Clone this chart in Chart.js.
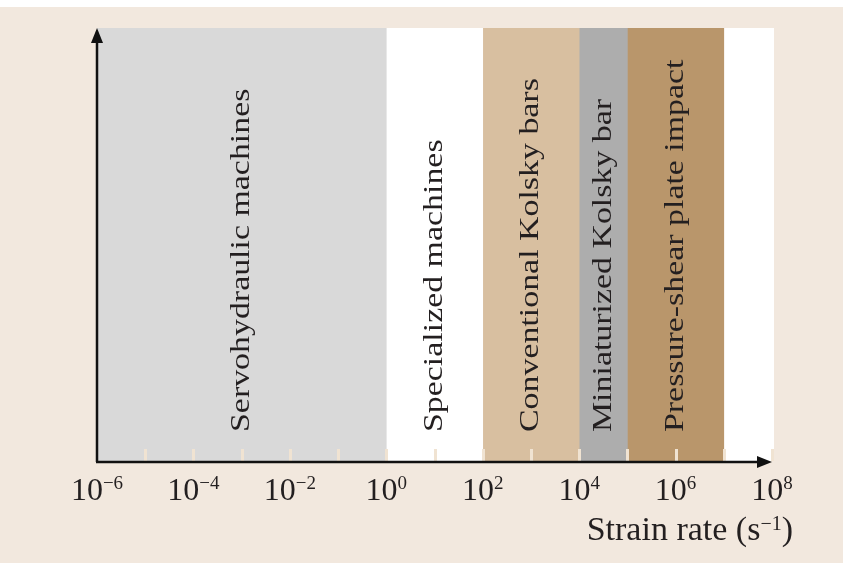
<!DOCTYPE html>
<html lang="en">
<head>
  <meta charset="UTF-8" />
  <title>Strain rate ranges of testing techniques</title>
  <script src="https://cdn.jsdelivr.net/npm/chart.js"></script>
  <style>
    * { margin: 0; padding: 0; box-sizing: border-box; }
    body { background: #fff; width: 843px; height: 563px; overflow: hidden; }
    canvas { display: block; }
  </style>
</head>
<body>
  <canvas id="rateChart" width="843" height="563"></canvas>
  <script>
    // Data: technique bands on a log strain-rate axis
    const techniques = ['Servohydraulic machines', 'Specialized machines', 'Conventional Kolsky bars', 'Miniaturized Kolsky bar', 'Pressure-shear plate impact'];
    const rateFrom = [1e-6, 1e0, 1e2, 1e4, 1e5];
    const rateTo = [1e0, 1e2, 1e4, 1e5, 1e7];
    const bandColors = ['#d9d9d9', '#ffffff', '#d8bfa0', '#adadad', '#b9966b'];
    const tickValues = [1e-6, 1e-4, 1e-2, 1e0, 1e2, 1e4, 1e6, 1e8];
    const tickExponents = ['\u22126', '\u22124', '\u22122', '0', '2', '4', '6', '8'];
    const axisTitle = 'Strain rate (s';
    const axisTitleExp = '\u22121';

    const BEIGE = '#f2e8de';
    const INK = '#231f20';
    const SERIF = '"Liberation Serif", "DejaVu Serif", serif';

    // one dataset per band, all sharing the single row
    const datasets = techniques.map((name, i) => ({
      label: name,
      data: [[rateFrom[i], rateTo[i]]],
      backgroundColor: bandColors[i],
      borderWidth: 0,
      grouped: false,
      barPercentage: 1,
      categoryPercentage: 1
    }));

    const decorations = {
      id: 'decorations',
      beforeDraw(chart) {
        const { ctx, chartArea: a } = chart;
        ctx.save();
        ctx.fillStyle = '#ffffff';
        ctx.fillRect(0, 0, chart.width, chart.height);
        ctx.fillStyle = BEIGE;
        ctx.fillRect(0, 7, chart.width, chart.height - 7);
        ctx.fillStyle = '#ffffff';
        ctx.fillRect(a.left, a.top, a.right - a.left + 2, a.bottom - a.top);
        ctx.restore();
      },
      afterDatasetsDraw(chart) {
        const { ctx, chartArea: a } = chart;
        const xs = chart.scales.x;
        ctx.save();

        // decade tick marks inside the plot
        ctx.strokeStyle = '#f0e3d2';
        ctx.lineWidth = 3;
        for (let e = Math.log10(xs.min) + 1; e <= Math.log10(xs.max); e++) {
          const px = Math.round(xs.getPixelForValue(Math.pow(10, e))) + 0.5;
          ctx.beginPath();
          ctx.moveTo(px, a.bottom - 12);
          ctx.lineTo(px, a.bottom);
          ctx.stroke();
        }

        // band labels, rotated
        ctx.fillStyle = INK;
        ctx.font = '28px ' + SERIF;
        ctx.textAlign = 'left';
        ctx.textBaseline = 'middle';
        techniques.forEach((name, i) => {
          const cx = (xs.getPixelForValue(rateFrom[i]) + xs.getPixelForValue(rateTo[i])) / 2;
          ctx.save();
          ctx.translate(cx, a.bottom - 29);
          ctx.rotate(-Math.PI / 2);
          ctx.scale(1.21, 1);
          ctx.fillText(name, 0, 0);
          ctx.restore();
        });

        // axes with arrows
        ctx.strokeStyle = '#111';
        ctx.fillStyle = '#111';
        ctx.lineWidth = 2.5;
        const y0 = a.bottom + 1;
        ctx.beginPath();
        ctx.moveTo(a.left - 1, y0);
        ctx.lineTo(a.right - 12, y0);
        ctx.moveTo(a.left, y0);
        ctx.lineTo(a.left, a.top + 12);
        ctx.stroke();
        ctx.beginPath();
        ctx.moveTo(a.right, y0);
        ctx.lineTo(a.right - 15, y0 - 6);
        ctx.lineTo(a.right - 15, y0 + 6);
        ctx.closePath();
        ctx.fill();
        ctx.beginPath();
        ctx.moveTo(a.left, a.top);
        ctx.lineTo(a.left - 6, a.top + 15);
        ctx.lineTo(a.left + 6, a.top + 15);
        ctx.closePath();
        ctx.fill();

        // tick labels 10^n
        ctx.fillStyle = INK;
        ctx.textAlign = 'left';
        ctx.textBaseline = 'alphabetic';
        tickValues.forEach((v, i) => {
          const px = xs.getPixelForValue(v);
          ctx.font = '32px ' + SERIF;
          const wBase = ctx.measureText('10').width;
          ctx.font = '19px ' + SERIF;
          const wExp = ctx.measureText(tickExponents[i]).width;
          const x0 = px - (wBase + wExp) / 2;
          ctx.font = '32px ' + SERIF;
          ctx.fillText('10', x0, 500);
          ctx.font = '19px ' + SERIF;
          ctx.fillText(tickExponents[i], x0 + wBase, 489);
        });

        // axis title
        ctx.font = '34px ' + SERIF;
        const wT = ctx.measureText(axisTitle).width;
        ctx.font = '20px ' + SERIF;
        const wE = ctx.measureText(axisTitleExp).width;
        ctx.font = '34px ' + SERIF;
        const wP = ctx.measureText(')').width;
        const right = 793;
        const tx = right - wP - wE - wT;
        ctx.fillText(axisTitle, tx, 540);
        ctx.font = '20px ' + SERIF;
        ctx.fillText(axisTitleExp, tx + wT, 530);
        ctx.font = '34px ' + SERIF;
        ctx.fillText(')', tx + wT + wE, 540);

        ctx.restore();
      }
    };

    new Chart(document.getElementById('rateChart'), {
      type: 'bar',
      data: { labels: ['range'], datasets },
      options: {
        indexAxis: 'y',
        responsive: false,
        animation: false,
        devicePixelRatio: 1,
        layout: { padding: { left: 97, top: 28, right: 71, bottom: 102 } },
        plugins: { legend: { display: false }, tooltip: { enabled: false } },
        scales: {
          x: { type: 'logarithmic', min: 1e-6, max: 1e8, display: false },
          y: { type: 'category', display: false, offset: true }
        }
      },
      plugins: [decorations]
    });
  </script>
</body>
</html>
